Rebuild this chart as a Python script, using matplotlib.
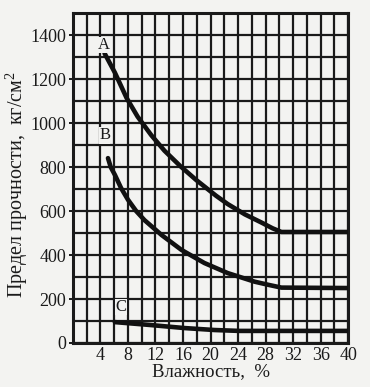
import matplotlib
matplotlib.use("Agg")
import matplotlib.pyplot as plt
import numpy as np

# Data
a_x = [4.6, 6.1, 7.8, 9.4, 11.4, 13.3, 15.6, 17.9, 20.8, 22.5, 25.0, 27.4, 29.0, 30.3, 40.0]
a_y = [1318, 1230, 1115, 1030, 945, 875, 805, 742, 670, 632, 585, 548, 522, 505, 505]
b_x = [5.1, 5.5, 6.1, 7.0, 8.0, 9.2, 10.4, 12.9, 15.8, 19.1, 22.5, 26.4, 28.5, 30.3, 40.0]
b_y = [841, 800, 765, 705, 652, 600, 559, 491, 423, 364, 318, 279, 264, 252, 250]
c_x = [6.1, 11.2, 16.2, 20.6, 24.2, 40.0]
c_y = [95, 82, 68, 59, 55, 55]
curve_labels = ["A", "B", "C"]
label_pos_x = [4.5, 4.6, 7.0]
label_pos_y = [1355, 945, 164]
x_ticks = [4, 8, 12, 16, 20, 24, 28, 32, 36, 40]
y_ticks = [0, 200, 400, 600, 800, 1000, 1200, 1400]
x_label = "Влажность,  %"
y_label = "Предел прочности,  кг/см$^2$"

plt.rcParams['font.family'] = ['Liberation Serif', 'DejaVu Serif']
plt.rcParams['mathtext.fontset'] = 'custom'
plt.rcParams['mathtext.rm'] = 'Liberation Serif'

bg = '#f3f3f1'
fig = plt.figure(figsize=(3.70, 3.87), dpi=100, facecolor=bg)
ax = fig.add_axes([0.197, 0.1137, 0.744, 0.852], facecolor=bg)

ax.set_xlim(0, 40)
ax.set_ylim(0, 1500)
ax.set_xticks(np.arange(0, 41, 2), minor=True)
ax.set_yticks(np.arange(0, 1501, 100), minor=True)
ax.set_xticks(x_ticks)
ax.set_yticks(y_ticks)
ax.grid(which='both', color='#1a1a1a', linewidth=1.6)
ax.set_axisbelow(True)
ax.tick_params(which='minor', length=0)
ax.tick_params(which='major', length=3, width=1.4, labelsize=13, colors='#1a1a1a', pad=2)
ax.tick_params(axis='x', length=0, pad=3)
for s in ax.spines.values():
    s.set_linewidth(2.2)
    s.set_color('#1a1a1a')

for xs, ys in [(a_x, a_y), (b_x, b_y), (c_x, c_y)]:
    ax.plot(xs, ys, color='#111111', linewidth=3.3, solid_capstyle='round',
            solid_joinstyle='round', zorder=3)

for t, lx, ly in zip(curve_labels, label_pos_x, label_pos_y):
    ax.text(lx, ly, t, fontsize=12, ha='center', va='center', color='#1a1a1a',
            bbox=dict(facecolor=bg, edgecolor='none', pad=0.3), zorder=4)

ax.set_xlabel(x_label, fontsize=13.5, color='#1a1a1a', labelpad=-1)
ax.set_ylabel(y_label, fontsize=14.5, color='#1a1a1a', va='center')
ax.yaxis.set_label_coords(-0.205, 0.48)

fig.savefig("out.png", dpi=100, facecolor=bg)
